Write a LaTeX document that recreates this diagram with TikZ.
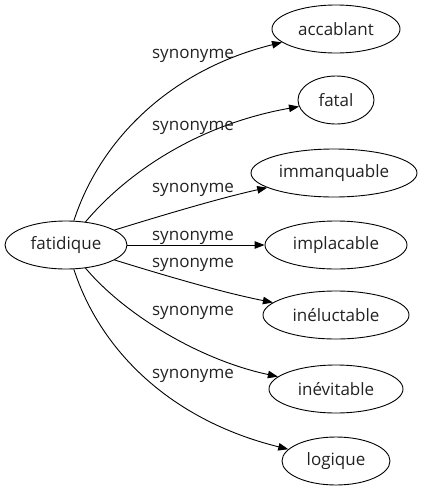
\documentclass[tikz,border=0pt]{standalone}
\usepackage{fontspec}
\setmainfont{Open Sans}
\usetikzlibrary{shapes.geometric,arrows.meta}
\definecolor{ink}{HTML}{222222}
\tikzset{
  word/.style={ellipse,draw,line width=0.9pt,inner sep=0pt,minimum height=48pt,text=ink,font=\fontsize{17}{20}\selectfont},
  rel/.style={line width=0.9pt,-{Triangle[length=10pt,width=7.5pt]}},
  lab/.style={anchor=base,inner sep=0pt,text=ink,font=\fontsize{17}{20}\selectfont}
}
\begin{document}
\begin{tikzpicture}[x=1pt,y=-1pt]
\useasboundingbox (0,0) rectangle (426,491);
\node[word,minimum width=122pt] (fat) at (66,245) {fatidique};
\node[word,minimum width=128pt] (acc) at (336,29) {accablant};
\node[word,minimum width=76pt] (fal) at (336,100) {fatal};
\node[word,minimum width=166pt] (imm) at (334,173) {immanquable};
\node[word,minimum width=142pt] (imp) at (336,245) {implacable};
\node[word,minimum width=146pt] (ine) at (336,315) {inéluctable};
\node[word,minimum width=134pt] (inv) at (336,389) {inévitable};
\node[word,minimum width=108pt] (log) at (336,461) {logique};
\draw[rel] (fat) .. controls (100,140) and (170,70) .. (acc);
\draw[rel] (fat) .. controls (125,175) and (195,125) .. (fal);
\draw[rel] (fat) .. controls (160,216) and (220,198) .. (imm);
\draw[rel] (fat) -- (imp);
\draw[rel] (fat) .. controls (160,274) and (220,292) .. (ine);
\draw[rel] (fat) .. controls (125,315) and (200,360) .. (inv);
\draw[rel] (fat) .. controls (100,350) and (170,420) .. (log);
\node[lab] (l1) at (193,58) {synonyme};
\node[lab] (l2) at (193,130) {synonyme};
\node[lab] (l3) at (193,192) {synonyme};
\node[lab] (l4) at (193,240) {synonyme};
\node[lab] (l5) at (193,267) {synonyme};
\node[lab] (l6) at (193,315) {synonyme};
\node[lab] (l7) at (193,378) {synonyme};
\end{tikzpicture}
\end{document}
